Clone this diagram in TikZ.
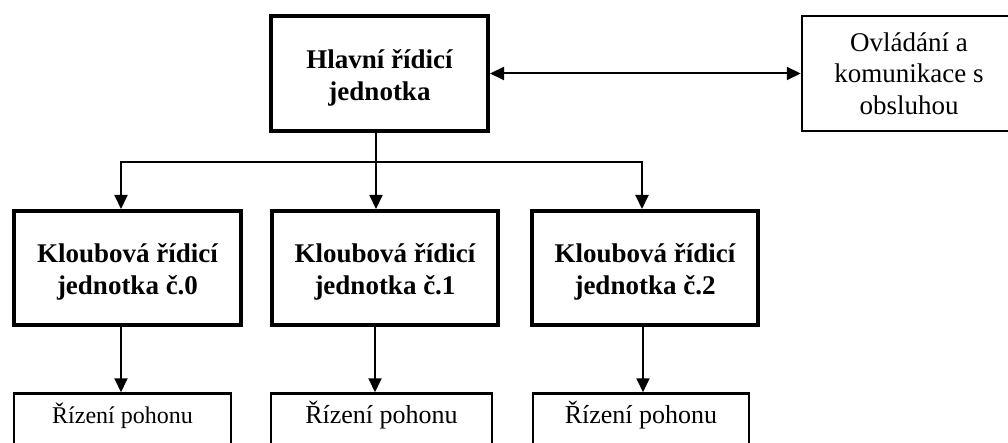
\documentclass[tikz,border=0pt]{standalone}
\usepackage{fontspec}
\setmainfont{Liberation Serif}
\usetikzlibrary{arrows.meta}
\begin{document}
\begin{tikzpicture}[x=1pt,y=-1pt,
  mainbox/.style={draw, line width=4pt, inner sep=0pt},
  maintext/.style={inner sep=0pt, align=center,
    font=\bfseries\fontsize{27}{32}\selectfont},
  sidebox/.style={draw, line width=2.5pt, inner sep=0pt, align=center,
    font=\fontsize{27}{31.5}\selectfont},
  drivebox/.style={draw, line width=2.5pt, inner sep=0pt, anchor=base,
    text height=29.5pt, text depth=60pt},
  arr/.style={line width=2pt, -{Triangle[length=14pt,width=13pt]}},
  darr/.style={line width=2pt, {Triangle[length=14pt,width=13pt]}-{Triangle[length=14pt,width=13pt]}}
]
\fill[white] (0,0) rectangle (1008,443);
\useasboundingbox (0,0) rectangle (1008,443);

\node[mainbox, minimum width=217pt, minimum height=115pt] (main) at (379.5,73.5) {};
\node[maintext] (maint) at ([yshift=-4pt]main.center) {Hlavní řídicí\\jednotka};
\node[sidebox, minimum width=214pt, minimum height=115pt] (ctrl) at (909,73.5) {Ovládání a\\komunikace s\\obsluhou};

\node[mainbox, minimum width=227pt, minimum height=114pt] (k0) at (127.5,268) {};
\node[mainbox, minimum width=226pt, minimum height=114pt] (k1) at (385,268) {};
\node[mainbox, minimum width=226pt, minimum height=114pt] (k2) at (645,268) {};
\node[maintext] (k0t) at ([yshift=-4pt]k0.center) {Kloubová řídicí\\jednotka č.0};
\node[maintext] (k1t) at ([yshift=-4pt]k1.center) {Kloubová řídicí\\jednotka č.1};
\node[maintext] (k2t) at ([yshift=-4pt]k2.center) {Kloubová řídicí\\jednotka č.2};

\node[drivebox, minimum width=217pt, font=\fontsize{24}{28}\selectfont] (r0) at (122.5,423) {Řízení pohonu};
\node[drivebox, minimum width=221pt, font=\fontsize{26}{30}\selectfont] (r1) at (381.5,423) {Řízení pohonu};
\node[drivebox, minimum width=216pt, font=\fontsize{26}{30}\selectfont] (r2) at (641,423) {Řízení pohonu};

\coordinate (j0) at (121,162);
\coordinate (j1) at (376,162);
\coordinate (j2) at (642,162);
\coordinate (d1) at (375,0);
\coordinate (d2) at (643,0);

\draw[darr] (main.east) -- (ctrl.west |- main.east);
\draw[arr] (main.south -| j1) -- (j1 |- k1.north);
\draw[arr] (j1) -- (j0) -- (j0 |- k0.north);
\draw[arr] (j1) -- (j2) -- (j2 |- k2.north);

\draw[arr] (k0.south -| j0) -- (j0 |- r0.north);
\draw[arr] (k1.south -| d1) -- (d1 |- r1.north);
\draw[arr] (k2.south -| d2) -- (d2 |- r2.north);
\end{tikzpicture}
\end{document}
